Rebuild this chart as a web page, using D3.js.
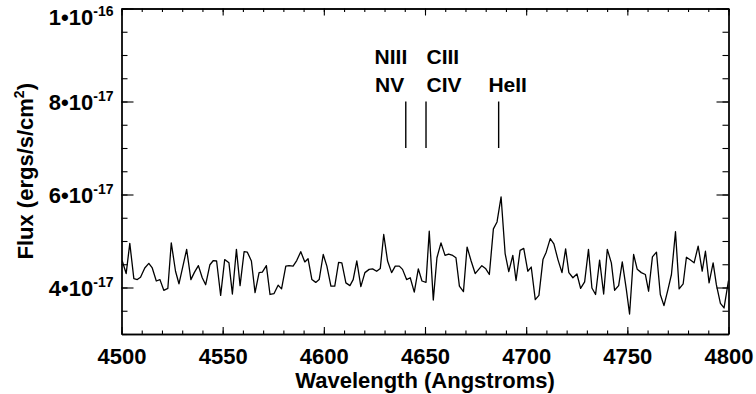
<!DOCTYPE html>
<html>
<head>
<meta charset="utf-8">
<script src="https://cdn.jsdelivr.net/npm/d3@7"></script>
<style>
body{margin:0;background:#fff}
svg text{font-family:"Liberation Sans",Arial,Helvetica,sans-serif;font-weight:bold;fill:#000}
</style>
</head>
<body>
<svg id="chart" width="756" height="394"></svg>
<script>
// spectrum, flux in units of 1e-17 ergs/s/cm2/A
var wavelength = [4500.3,4502.3,4504.1,4506.1,4507.8,4509.4,4511.5,4513.5,4515.2,4517.2,4519.0,4520.9,4522.9,4524.6,4526.7,4528.4,4530.3,4532.2,4534.3,4536.1,4538.0,4539.9,4541.6,4543.7,4545.4,4547.0,4549.0,4551.0,4553.1,4554.8,4556.8,4558.6,
 4560.6,4562.2,4564.2,4566.0,4568.0,4569.6,4571.6,4573.4,4575.4,4577.4,4579.1,4581.2,4582.8,4584.8,4586.6,4588.6,4590.6,4592.2,4594.1,4596.0,4597.7,4599.7,4601.5,4603.5,4605.4,4607.3,4608.9,4610.9,4612.9,4614.5,4616.3,4618.3,
 4620.3,4622.4,4624.1,4626.1,4627.9,4629.6,4631.5,4633.5,4635.3,4637.3,4638.9,4640.9,4642.7,4644.7,4646.7,4648.5,4650.5,4652.1,4654.1,4655.9,4657.9,4659.9,4661.7,4663.7,4665.3,4667.0,4669.0,4670.8,4672.8,4674.8,
 4678.1,4679.9,4681.8,4683.8,4685.6,4687.6,4689.6,4691.4,4693.4,4695.0,4697.0,4698.8,4700.8,4702.5,4704.5,4706.3,4708.3,4709.9,4711.9,4713.7,4715.7,4717.7,4719.5,4721.1,4723.1,4725.1,4726.9,4728.9,4730.8,4732.5,4734.3,4736.3,
 4738.3,4740.1,4742.1,4743.7,4745.7,4747.5,4749.5,4751.1,4753.1,4754.9,4756.9,4758.9,4760.5,4762.4,4764.4,4766.3,4768.1,4770.1,4771.8,4773.8,4775.6,4777.6,4779.2,4781.2,4783.0,4785.0,4787.0,4788.6,4790.4,4792.4,4794.0,4796.0,4797.8,4800.0]
var flux = [4.58,4.30,4.95,4.19,4.17,4.22,4.42,4.52,4.42,4.14,4.17,3.94,3.98,4.96,4.35,4.08,4.45,4.82,4.17,4.33,4.47,4.21,4.06,4.49,4.58,4.57,3.83,4.60,4.53,3.86,4.82,4.04,
 4.77,4.76,4.57,3.89,4.32,4.33,4.47,3.85,3.87,4.05,3.97,4.46,4.47,4.46,4.58,4.77,4.55,4.62,4.17,4.11,4.17,4.71,4.46,4.03,4.03,4.54,4.53,4.10,4.04,4.17,4.57,4.02,
 4.32,4.39,4.40,4.35,4.41,5.14,4.57,4.32,4.46,4.46,4.39,4.17,4.21,3.90,4.40,4.14,4.11,5.21,3.73,4.64,4.96,4.69,4.72,4.69,4.64,4.03,3.91,4.87,4.57,4.30,
 4.47,4.41,4.28,5.26,5.41,5.95,4.73,4.34,4.69,4.15,4.80,4.84,4.35,4.44,3.74,3.83,4.60,4.76,5.05,4.94,4.60,4.32,4.83,4.32,4.21,4.29,3.98,4.12,4.82,3.99,3.85,4.59,
 3.86,4.82,4.53,3.94,4.04,4.55,3.96,3.43,4.71,4.39,4.32,4.28,3.92,4.66,4.76,3.85,3.61,3.96,4.28,5.20,3.97,4.08,4.65,4.59,4.53,4.89,4.35,4.78,4.10,4.53,4.06,3.66,3.56,4.15]
var fluxUnit = 1e-17

// line identifications
var lineWave = [4640.5, 4650.5, 4686.4]
var lineTop = ["NIII", "CIII", ""]
var lineBottom = ["NV", "CIV", "HeII"]

// axes
var xTicks = [4500,4550,4600,4650,4700,4750,4800]
var yTicks = [4e-17, 6e-17, 8e-17, 1e-16]
var yTickMant = ["4","6","8","1"]
var yTickExp = ["-17","-17","-17","-16"]

var screen = {width:756, height:394}
var margins = {left:121.5, right:27.5, top:8.5, bottom:60}
var graph = {
    width: screen.width - margins.left - margins.right,
    height: screen.height - margins.top - margins.bottom
}

var svg = d3.select("#chart")

var xScale = d3.scaleLinear().domain([4500,4800]).range([0, graph.width])
var yScale = d3.scaleLinear().domain([3e-17, 1e-16]).range([graph.height, 0])

var plot = svg.append("g")
    .attr("transform", "translate(" + margins.left + "," + margins.top + ")")

plot.append("clipPath").attr("id","clip")
  .append("rect").attr("width", graph.width).attr("height", graph.height)

var minorX = d3.range(4500, 4801, 10)
var minorY = d3.range(3e-17, 1.0001e-16, 0.5e-17)

var styleAxis = function(g) {
    g.selectAll("path").attr("stroke","#000").attr("stroke-width",1.3)
    g.selectAll("line").attr("stroke","#000").attr("stroke-width",1.1)
}

// minor ticks
plot.append("g").attr("transform","translate(0," + graph.height + ")")
  .call(d3.axisBottom(xScale).tickValues(minorX).tickSizeInner(-3.5).tickSizeOuter(0).tickFormat(""))
  .call(styleAxis)
plot.append("g")
  .call(d3.axisTop(xScale).tickValues(minorX).tickSizeInner(-3.5).tickSizeOuter(0).tickFormat(""))
  .call(styleAxis)
plot.append("g")
  .call(d3.axisLeft(yScale).tickValues(minorY).tickSizeInner(-6).tickSizeOuter(0).tickFormat(""))
  .call(styleAxis)
plot.append("g").attr("transform","translate(" + graph.width + ",0)")
  .call(d3.axisRight(yScale).tickValues(minorY).tickSizeInner(-6).tickSizeOuter(0).tickFormat(""))
  .call(styleAxis)

// major ticks
var xAxis = plot.append("g").attr("transform","translate(0," + graph.height + ")")
  .call(d3.axisBottom(xScale).tickValues(xTicks).tickSizeInner(-7).tickSizeOuter(0).tickPadding(14).tickFormat(d3.format("d")))
  .call(styleAxis)
xAxis.selectAll("text").attr("font-size", 22).attr("font-family", null)

plot.append("g")
  .call(d3.axisTop(xScale).tickValues(xTicks).tickSizeInner(-7).tickSizeOuter(0).tickFormat(""))
  .call(styleAxis)
plot.append("g")
  .call(d3.axisLeft(yScale).tickValues(yTicks).tickSizeInner(-12).tickSizeOuter(0).tickFormat(""))
  .call(styleAxis)
plot.append("g").attr("transform","translate(" + graph.width + ",0)")
  .call(d3.axisRight(yScale).tickValues(yTicks).tickSizeInner(-12).tickSizeOuter(0).tickFormat(""))
  .call(styleAxis)

// y tick labels with exponents (top one kept inside the window)
var yLab = plot.append("g").selectAll("text")
  .data(yTicks)
  .enter()
  .append("text")
  .attr("text-anchor","end")
  .attr("x", -8)
  .attr("y", function(d){ return Math.max(yScale(d) + 8, 16) })
  .attr("font-size", 22)
yLab.append("tspan").text(function(d,i){ return yTickMant[i] + "\u202210" })
yLab.append("tspan").attr("font-size", 14).attr("dy", -9).text(function(d,i){ return yTickExp[i] })

// spectrum
var line = d3.line()
  .x(function(d,i){ return xScale(wavelength[i]) })
  .y(function(d){ return yScale(d * fluxUnit) })

plot.append("path")
  .datum(flux)
  .attr("clip-path","url(#clip)")
  .attr("fill","none")
  .attr("stroke","#000")
  .attr("stroke-width",1.3)
  .attr("stroke-linejoin","round")
  .attr("d", line)

// line markers 7e-17 to 8e-17
var marks = plot.append("g")
marks.selectAll("line")
  .data(lineWave)
  .enter()
  .append("line")
  .attr("x1", function(d){ return xScale(d) })
  .attr("x2", function(d){ return xScale(d) })
  .attr("y1", yScale(7e-17))
  .attr("y2", yScale(8e-17))
  .attr("stroke","#000")
  .attr("stroke-width",1.4)

var labelAnchor = ["end","start","middle"]
var labelShift = [1.5, 0.5, 9]
marks.selectAll("text.top")
  .data(lineWave)
  .enter()
  .append("text")
  .attr("font-size", 21)
  .attr("text-anchor", function(d,i){ return labelAnchor[i] })
  .attr("x", function(d,i){ return xScale(d) + labelShift[i] })
  .attr("y", yScale(8e-17) - 38)
  .text(function(d,i){ return lineTop[i] })
marks.selectAll("text.bottom")
  .data(lineWave)
  .enter()
  .append("text")
  .attr("font-size", 21)
  .attr("text-anchor", function(d,i){ return labelAnchor[i] })
  .attr("x", function(d,i){ return xScale(d) + labelShift[i] - (i==0 ? 3 : 0) })
  .attr("y", yScale(8e-17) - 9.5)
  .text(function(d,i){ return lineBottom[i] })

// titles
svg.append("text")
  .attr("text-anchor","middle")
  .attr("font-size", 22)
  .attr("x", margins.left + graph.width/2)
  .attr("y", 388)
  .text("Wavelength (Angstroms)")

var yTitle = svg.append("text")
  .attr("text-anchor","middle")
  .attr("font-size", 22)
  .attr("transform","translate(33," + (margins.top + graph.height/2) + ") rotate(-90)")
yTitle.append("tspan").text("Flux (ergs/s/cm")
yTitle.append("tspan").attr("font-size", 14).attr("dy", -9).text("2")
yTitle.append("tspan").attr("dy", 9).text(")")
</script>
</body>
</html>
